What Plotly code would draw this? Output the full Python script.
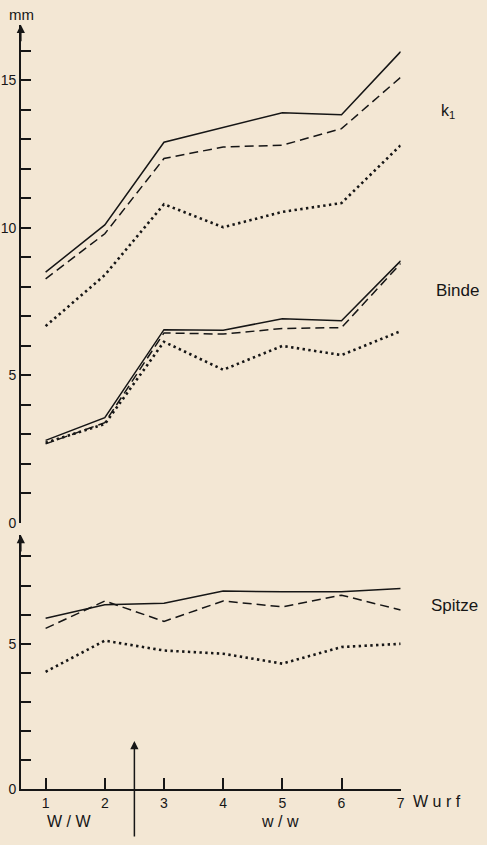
import plotly.graph_objects as go

# ---- data ----
wurf = [1, 2, 3, 4, 5, 6, 7]
x_ticklabels = ["1", "2", "3", "4", "5", "6", "7"]

k1_solid = [8.5, 10.1, 12.9, 13.4, 13.9, 13.83, 15.97]
k1_dashed = [8.27, 9.8, 12.35, 12.74, 12.8, 13.36, 15.1]
k1_dotted = [6.67, 8.4, 10.8, 10.02, 10.54, 10.84, 12.8]

binde_solid = [2.8, 3.57, 6.55, 6.53, 6.92, 6.85, 8.88]
binde_dashed = [2.68, 3.4, 6.44, 6.4, 6.59, 6.62, 8.79]
binde_dotted = [2.72, 3.35, 6.14, 5.19, 6.0, 5.69, 6.5]

spitze_solid = [5.88, 6.34, 6.39, 6.81, 6.79, 6.79, 6.9]
spitze_dashed = [5.53, 6.47, 5.77, 6.47, 6.27, 6.67, 6.16]
spitze_dotted = [4.04, 5.11, 4.77, 4.66, 4.32, 4.89, 5.0]

upper_ticks = list(range(0, 17))
lower_ticks = list(range(0, 9))
upper_labels = [str(v) if v % 5 == 0 else "" for v in upper_ticks]
lower_labels = [str(v) if v % 5 == 0 else "" for v in lower_ticks]

# ---- style ----
W, H = 487, 845
BG = "#f3e7d4"
INK = "#161616"
FONT = "Liberation Sans"

x_lo, x_hi = 0.581, 7.0
up_top = 16.88
lo_top = 8.74

styles = {
    "solid": dict(color=INK, width=1.5, dash="solid"),
    "dashed": dict(color=INK, width=1.5, dash="9px,5px"),
    "dotted": dict(color=INK, width=2.6, dash="2.4px,3.4px"),
}

fig = go.Figure()

def add(y, style, yaxis):
    fig.add_trace(go.Scatter(x=wurf, y=y, mode="lines", line=styles[style],
                             yaxis=yaxis, xaxis="x", showlegend=False,
                             hoverinfo="skip"))

add(k1_solid, "solid", "y2")
add(k1_dashed, "dashed", "y2")
add(k1_dotted, "dotted", "y2")
add(binde_solid, "solid", "y2")
add(binde_dashed, "dashed", "y2")
add(binde_dotted, "dotted", "y2")
add(spitze_solid, "solid", "y")
add(spitze_dashed, "dashed", "y")
add(spitze_dotted, "dotted", "y")

tickfont = dict(family=FONT, size=14, color=INK)

fig.update_layout(
    width=W, height=H,
    margin=dict(l=0, r=0, t=0, b=0),
    paper_bgcolor=BG, plot_bgcolor=BG,
    xaxis=dict(domain=[21 / W, 404 / W], range=[x_lo, x_hi], anchor="y",
               showgrid=False, zeroline=False, showline=True, linecolor=INK,
               linewidth=1.5, ticks="inside", ticklen=12, tickwidth=1.5,
               tickcolor=INK, tickvals=wurf, ticktext=x_ticklabels,
               tickfont=tickfont),
    yaxis=dict(domain=[(H - 797) / H, (H - 540) / H], range=[0, lo_top],
               anchor="x", showgrid=False, zeroline=False, showline=True,
               linecolor=INK, linewidth=1.5, ticks="inside", ticklen=10,
               tickwidth=1.5, tickcolor=INK, tickvals=lower_ticks,
               ticktext=lower_labels, tickfont=tickfont),
    yaxis2=dict(domain=[(H - 528) / H, (H - 25) / H], range=[0, up_top],
                anchor="x", showgrid=False, zeroline=False, showline=True,
                linecolor=INK, linewidth=1.5, ticks="inside", ticklen=10,
                tickwidth=1.5, tickcolor=INK, tickvals=upper_ticks,
                ticktext=upper_labels, tickfont=tickfont),
)

def text(x, y, s, xanchor="left", size=16):
    fig.add_annotation(x=x / W, y=(H - y) / H, xref="paper", yref="paper",
                       text=s, showarrow=False, xanchor=xanchor,
                       yanchor="middle", font=dict(family=FONT, size=size, color=INK))

text(22, 15, "mm", "center", 15)
text(443, 113, "k<sub>1</sub>", "left", 16)
text(438, 293, "Binde", "left", 17)
text(433, 611, "Spitze", "left", 17)
text(414, 809, "W u r f", "left", 16)
text(70, 829, "W / W", "center", 16)
text(282, 829, "w / w", "center", 16)

# axis arrowheads
fig.add_annotation(x=x_lo, y=up_top, xref="x", yref="y2", ax=0, ay=18,
                   showarrow=True, arrowhead=2, arrowsize=1.1, arrowwidth=1.5,
                   arrowcolor=INK, text="")
fig.add_annotation(x=x_lo, y=lo_top, xref="x", yref="y", ax=0, ay=18,
                   showarrow=True, arrowhead=2, arrowsize=1.1, arrowwidth=1.5,
                   arrowcolor=INK, text="")
# vertical arrow at 2.5
fig.add_annotation(x=2.5, y=(H - 748) / H, xref="x", yref="paper", ax=0, ay=97,
                   showarrow=True, arrowhead=2, arrowsize=1.1, arrowwidth=1.5,
                   arrowcolor=INK, text="")

post = ("document.documentElement.style.margin='0';"
        "document.documentElement.style.overflow='hidden';"
        "document.documentElement.style.background='%s';"
        "document.body.style.margin='0';document.body.style.padding='0';"
        "document.body.style.overflow='hidden';"
        "document.body.style.background='%s';"
        "var gd=document.getElementById('{plot_id}');"
        "gd.style.position='fixed';gd.style.left='0px';gd.style.top='0px';" % (BG, BG))
fig.write_html("out.html", post_script=post, config={"displayModeBar": False})
